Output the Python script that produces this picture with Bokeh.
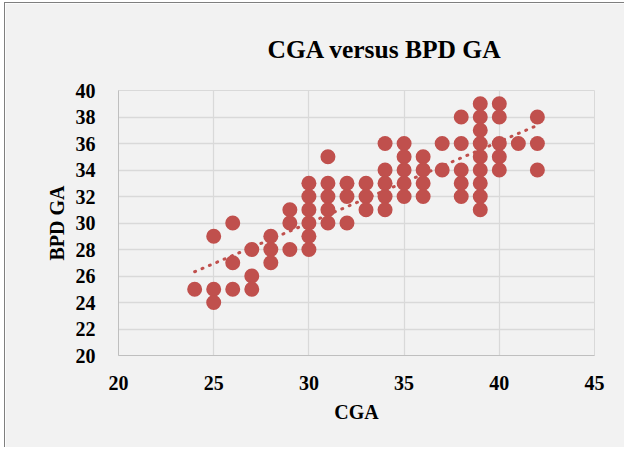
import numpy as np
from bokeh.plotting import figure
from bokeh.models import FixedTicker, Range1d
from bokeh.embed import file_html
from bokeh.resources import INLINE

# Data (CGA vs BPD GA, weeks)
cga = [24,
       25, 25, 25,
       26, 26, 26,
       27, 27, 27,
       28, 28, 28,
       29, 29, 29,
       30, 30, 30, 30, 30, 30,
       31, 31, 31, 31, 31,
       32, 32, 32,
       33, 33, 33,
       34, 34, 34, 34, 34,
       35, 35, 35, 35, 35,
       36, 36, 36, 36,
       37, 37,
       38, 38, 38, 38, 38,
       39, 39, 39, 39, 39, 39, 39, 39, 39,
       40, 40, 40, 40, 40,
       41,
       42, 42, 42]
bpd = [25,
       29, 25, 24,
       30, 27, 25,
       28, 26, 25,
       29, 28, 27,
       31, 30, 28,
       33, 32, 31, 30, 29, 28,
       35, 33, 32, 31, 30,
       33, 32, 30,
       33, 32, 31,
       36, 34, 33, 32, 31,
       36, 35, 34, 33, 32,
       35, 34, 33, 32,
       36, 34,
       38, 36, 34, 33, 32,
       39, 38, 37, 36, 35, 34, 33, 32, 31,
       39, 38, 36, 35, 34,
       36,
       38, 36, 34]

x_ticks = [20, 25, 30, 35, 40, 45]
y_ticks = [20, 22, 24, 26, 28, 30, 32, 34, 36, 38, 40]
title_text = "CGA versus BPD GA"
x_label = "CGA"
y_label = "BPD GA"

RED = "#C0504D"
BG = "#F2F2F2"
FONT = "Liberation Serif"

p = figure(width=620, height=445, output_backend="svg", toolbar_location=None,
           x_range=Range1d(20, 45), y_range=Range1d(20, 40),
           min_border_left=113, min_border_right=31, min_border_top=87,
           min_border_bottom=93, background_fill_color=BG, border_fill_color=BG,
           title=title_text)
p.margin = (2, 0, 0, 4)
p.styles = {"border-left": "1px solid #7F7F7F", "border-top": "1px solid #7F7F7F"}

p.title.text_font = FONT
p.title.text_font_size = "25.5px"
p.title.text_font_style = "bold"
p.title.text_color = "black"
p.title.align = "left"
p.title.offset = 149
p.title.standoff = 53

p.outline_line_color = "#D9D9D9"

# trendline (least squares fit of the data)
k, b = np.polyfit(cga, bpd, 1)
tx = np.array([min(cga), max(cga)])
p.line(tx, k * tx + b, line_color=RED, line_width=3, line_dash="1 7", line_cap="round")

p.scatter(cga, bpd, size=15, fill_color=RED, line_color=RED, line_width=0)

p.xaxis.ticker = FixedTicker(ticks=x_ticks)
p.yaxis.ticker = FixedTicker(ticks=y_ticks)
for ax in (p.xaxis[0], p.yaxis[0]):
    ax.major_tick_line_color = None
    ax.minor_tick_line_color = None
    ax.axis_line_color = "#BFBFBF"
    ax.major_label_text_font = FONT
    ax.major_label_text_font_size = "20px"
    ax.major_label_text_font_style = "bold"
    ax.major_label_text_color = "black"
    ax.axis_label_text_font = FONT
    ax.axis_label_text_font_size = "20px"
    ax.axis_label_text_font_style = "bold"
    ax.axis_label_text_color = "black"
p.xaxis.axis_label = x_label
p.yaxis.axis_label = y_label
p.xaxis.major_label_standoff = 14
p.yaxis.major_label_standoff = 17
p.xaxis.axis_label_standoff = 8
p.yaxis.axis_label_standoff = 5

p.xgrid.grid_line_color = "#D9D9D9"
p.ygrid.grid_line_color = "#D9D9D9"
p.xgrid.grid_line_width = 1.3
p.ygrid.grid_line_width = 1.3

open("out.html", "w").write(file_html(p, INLINE))
